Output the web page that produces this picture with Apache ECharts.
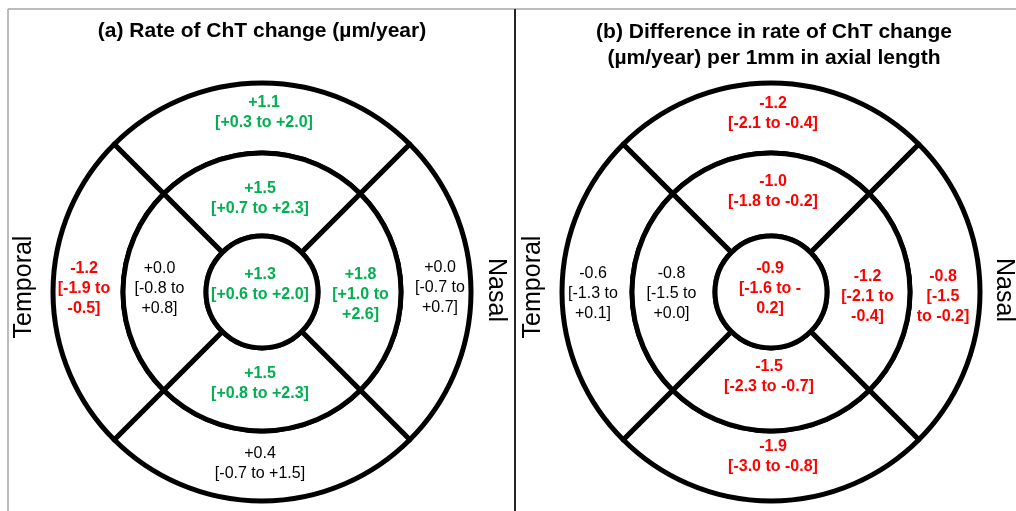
<!DOCTYPE html>
<html><head><meta charset="utf-8">
<script src="https://cdn.jsdelivr.net/npm/echarts@6/dist/echarts.min.js"></script>
<style>html,body{margin:0;padding:0;background:#fff}#c{width:1016px;height:511px}</style>
</head><body><div id="c"></div>
<script>
// Sector order within each ring (clockwise from top): superior, nasal, inferior, temporal
const sectors = ['Superior', 'Nasal', 'Inferior', 'Temporal'];

// Panel (a): rate of ChT change (µm/year) — estimate, CI lower, CI upper
const aCentral = [1.3, 0.6, 2.0];
const aInnerEst = [1.5, 1.8, 1.5, 0.0];
const aInnerLo  = [0.7, 1.0, 0.8, -0.8];
const aInnerHi  = [2.3, 2.6, 2.3, 0.8];
const aOuterEst = [1.1, 0.0, 0.4, -1.2];
const aOuterLo  = [0.3, -0.7, -0.7, -1.9];
const aOuterHi  = [2.0, 0.7, 1.5, -0.5];

// Panel (b): difference in rate of ChT change per 1mm axial length
const bCentral = [-0.9, -1.6, -0.2];
const bInnerEst = [-1.0, -1.2, -1.5, -0.8];
const bInnerLo  = [-1.8, -2.1, -2.3, -1.5];
const bInnerHi  = [-0.2, -0.4, -0.7, 0.0];
const bOuterEst = [-1.2, -0.8, -1.9, -0.6];
const bOuterLo  = [-2.1, -1.5, -3.0, -1.3];
const bOuterHi  = [-0.4, -0.2, -0.8, 0.1];

const titleA = '(a) Rate of ChT change (µm/year)';
const titleB = '(b) Difference in rate of ChT change\n(µm/year) per 1mm in axial length';
const sideLeft = 'Temporal';
const sideRight = 'Nasal';

// ---------- layout / style ----------
const FONT = '"Liberation Sans", Arial, sans-serif';
const GREEN = '#00B050', RED = '#FF0000', BLACK = '#000000';
const R_C = 56, R_I = 139, R_O = 209;
const CA = [262, 292], CB = [771, 292];

function fmt(v) { return (v < 0 ? '-' : '+') + Math.abs(v).toFixed(1); }
function sigColor(lo, hi) { return lo > 0 ? GREEN : (hi < 0 ? RED : BLACK); }
function makeText(est, lo, hi, wrap) {
  const e = fmt(est), l = fmt(lo), h = fmt(hi);
  if (wrap === 'three') return e + '\n[' + l + ' to\n' + h + ']';
  if (wrap === 'dash') return e + '\n[' + l + ' to ' + h.charAt(0) + '\n' + h.slice(1) + ']';
  if (wrap === 'early') return e + '\n[' + l + '\nto ' + h + ']';
  return e + '\n[' + l + ' to ' + h + ']';
}

function pieSeries(center, radius, est, lo, hi, wraps, nudges, names, pos) {
  return {
    type: 'pie', center: center, radius: radius, startAngle: 135, clockwise: true,
    silent: true, animation: false, avoidLabelOverlap: false,
    labelLine: { show: false },
    itemStyle: { color: '#ffffff', borderColor: '#000000', borderWidth: 5 },
    emphasis: { disabled: true },
    label: { show: true, position: pos, fontSize: 16, lineHeight: 20, fontFamily: FONT,
             formatter: function (p) { return p.data.text; } },
    labelLayout: function (p) { return { dx: nudges[p.dataIndex][0], dy: nudges[p.dataIndex][1] }; },
    data: names.map(function (s, i) {
      const c = sigColor(lo[i], hi[i]);
      return { name: s, value: 1, text: makeText(est[i], lo[i], hi[i], wraps[i]),
               label: { color: c, fontWeight: c === BLACK ? 'normal' : 'bold' } };
    })
  };
}

const series = [
  pieSeries(CA, [R_I, R_O], aOuterEst, aOuterLo, aOuterHi, ['two','three','two','three'],
            [[2,-2],[1,-4],[-2,-5],[-1,-3]], sectors, 'inside'),
  pieSeries(CA, [R_C, R_I], aInnerEst, aInnerLo, aInnerHi, ['two','three','two','three'],
            [[-2,7],[-2,3],[-2,-9],[-2,-3]], sectors, 'inside'),
  pieSeries(CA, [0, R_C], [aCentral[0]], [aCentral[1]], [aCentral[2]], ['two'],
            [[-2,-7]], ['Central'], 'center'),
  pieSeries(CB, [R_I, R_O], bOuterEst, bOuterLo, bOuterHi, ['two','early','two','three'],
            [[2,-1.5],[-5,5],[2,-12],[-1,1.5]], sectors, 'inside'),
  pieSeries(CB, [R_C, R_I], bInnerEst, bInnerLo, bInnerHi, ['two','three','two','three'],
            [[2,0.5],[-4,5],[-2,-16],[1,2]], sectors, 'inside'),
  pieSeries(CB, [0, R_C], [bCentral[0]], [bCentral[1]], [bCentral[2]], ['dash'],
            [[-1,-3]], ['Central'], 'center')
];

function txt(x, y, text, size, weight, rot, lh) {
  return { type: 'text', x: x, y: y, rotation: rot || 0, silent: true, z: 10,
    style: { text: text, fill: '#000', fontSize: size, fontWeight: weight, fontFamily: FONT,
             lineHeight: lh || size * 1.2, align: 'center', verticalAlign: 'middle',
             textAlign: 'center', textVerticalAlign: 'middle' } };
}

const chart = echarts.init(document.getElementById('c'), null, { renderer: 'canvas' });
chart.setOption({
  backgroundColor: '#ffffff',
  animation: false,
  series: series,
  graphic: [
    { type: 'line', silent: true, shape: { x1: 8, y1: 9, x2: 1016, y2: 9 }, style: { stroke: '#a6a6a6', lineWidth: 1.5 } },
    { type: 'line', silent: true, shape: { x1: 8, y1: 9, x2: 8, y2: 511 }, style: { stroke: '#a6a6a6', lineWidth: 1.5 } },
    { type: 'line', silent: true, shape: { x1: 515, y1: 9, x2: 515, y2: 511 }, style: { stroke: '#262626', lineWidth: 2 } },
    txt(262, 31, titleA, 21, 'bold'),
    txt(774, 45, titleB, 21, 'bold', 0, 26),
    txt(24, 287, sideLeft, 25, 'normal', Math.PI / 2),
    txt(496, 290, sideRight, 25, 'normal', -Math.PI / 2),
    txt(533, 287, sideLeft, 25, 'normal', Math.PI / 2),
    txt(1004, 290, sideRight, 25, 'normal', -Math.PI / 2)
  ]
});
</script>
</body></html>
